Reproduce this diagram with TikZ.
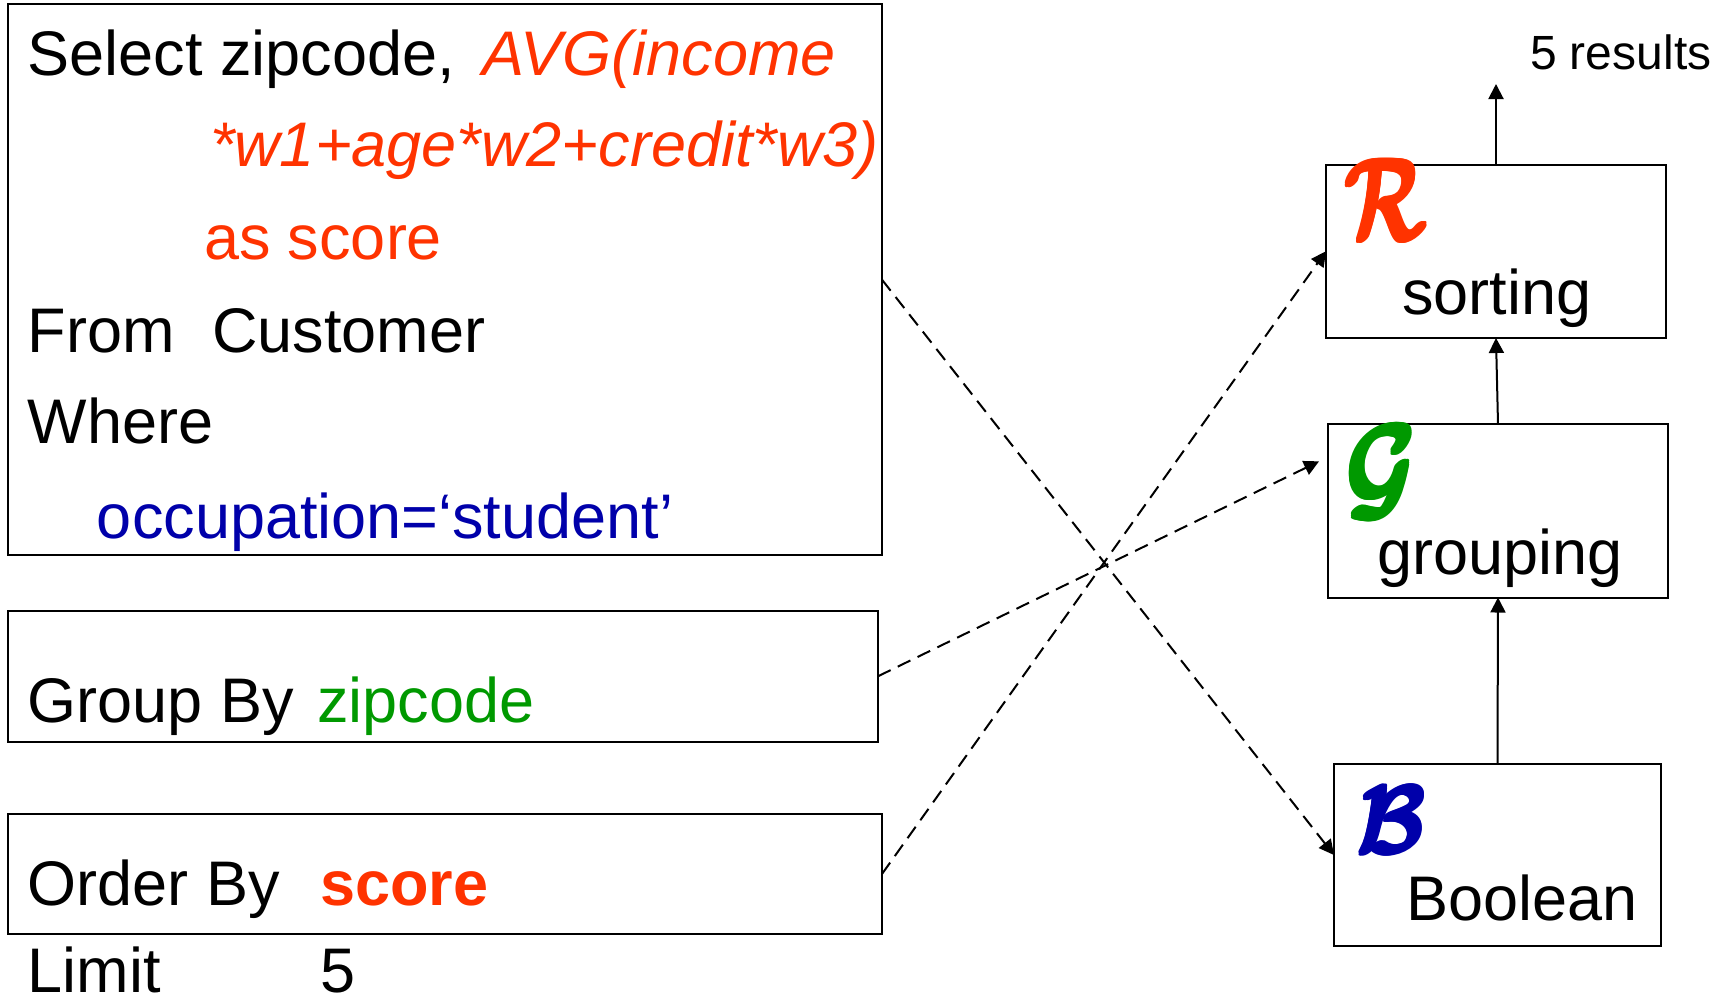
\documentclass[tikz,border=0pt]{standalone}
\usepackage{fontspec}
\setmainfont{Liberation Sans}
\usepackage{bm}
\usetikzlibrary{arrows.meta,calc}

\definecolor{sqlred}{HTML}{FF3300}
\definecolor{sqlgreen}{HTML}{009900}
\definecolor{sqlblue}{HTML}{0000AA}

\begin{document}
\begin{tikzpicture}[x=0.5pt,y=-0.5pt,
  box/.style={draw, line width=1pt, inner sep=0pt, outer sep=0pt, anchor=north west},
  txt/.style={anchor=base west, inner sep=0pt, outer sep=0pt,
              font=\fontsize{31.5}{36}\selectfont},
  small/.style={txt, font=\fontsize{24}{28}\selectfont},
  sym/.style={anchor=center, inner sep=0pt, outer sep=0pt,
              font=\fontsize{24.88}{30}\selectfont},
  flow/.style={-{Triangle[length=7.5pt,width=7.5pt]}, line width=1pt},
  link/.style={flow, dash pattern=on 7pt off 4pt}]

  % canvas
  \useasboundingbox (0,0) rectangle (1731,1002);

  % SQL query boxes
  \node[box, minimum width=437.15pt, minimum height=275.3pt] (main)  at (7.7,4.4) {};
  \node[box, minimum width=435.15pt, minimum height=65.75pt] (group) at (7.7,610.5) {};
  \node[box, minimum width=437.15pt, minimum height=60pt]    (order) at (7.7,814) {};

  % query text
  \node[txt] (sel)   at (27.6,75)  {Select zipcode,};
  \node[txt, text=sqlred] (avg) at (482,75) {\itshape AVG(income};
  \node[txt, text=sqlred] (wts) at (210,166) {\itshape *w1+age*w2+credit*w3)};
  \node[txt, text=sqlred] (as)  at (204,259) {as score};
  \node[txt] (from)  at (27.6,352) {From};
  \node[txt] (cust)  at (212,352)  {Customer};
  \node[txt] (where) at (27.6,443) {Where};
  \node[txt, text=sqlblue] (occ) at (97,538) {occupation=‘student’};
  \node[txt] (grpby) at (27.6,722) {Group By};
  \node[txt, text=sqlgreen] (zip) at (317,722) {zipcode};
  \node[txt] (ordby) at (27.6,905) {Order By};
  \node[txt, text=sqlred] (scr) at (320,905) {\bfseries score};
  \node[txt] (lim)   at (27.6,992) {Limit};
  \node[txt] (five)  at (320,992)  {5};

  % operator boxes
  \node[box, minimum width=170pt,   minimum height=86.75pt] (sorting)  at (1326,164.5) {};
  \node[box, minimum width=170pt,   minimum height=86.75pt] (grouping) at (1328,424) {};
  \node[box, minimum width=163.5pt, minimum height=91pt]    (boolean)  at (1334,764) {};

  % heavy calligraphic operator letters (stacked copies thicken the strokes)
  \foreach \dx [count=\i] in {-1.6,0,1.6} {
    \foreach \dy [count=\j] in {-1.6,0,1.6} {
      \node[sym, text=sqlred]   (rsym-\i-\j) at (1386+\dx,200+\dy)
        {\scalebox{1.65}[2.35]{$\bm{\mathcal{R}}$}};
      \node[sym, text=sqlgreen] (gsym-\i-\j) at (1381+\dx,472+\dy)
        {\scalebox{1.93}[2.35]{$\bm{\mathcal{G}}$}};
      \node[sym, text=sqlblue]  (bsym-\i-\j) at (1391+\dx,820+\dy)
        {\scalebox{1.79}[1.93]{$\bm{\mathcal{B}}$}};
    }
  }

  \node[txt] (sortlbl)  at (1402,314) {sorting};
  \node[txt] (grouplbl) at (1377,574) {grouping};
  \node[txt] (boollbl)  at (1406,920) {Boolean};

  % result output
  \coordinate (out) at (1496,84);
  \node[small] (res) at (1530,69) {5 results};

  % pipeline arrows
  \draw[flow] (sorting.north) -- (out);
  \draw[flow] (grouping.north) -- (sorting.south);
  \draw[flow] (boolean.north) -- (grouping.south);

  % clause-to-operator links
  \draw[link] (main.east) -- (boolean.west);
  \draw[link, shorten >=5pt] (group.east) --
    ($(grouping.north west)!0.19!(grouping.south west)$);
  \draw[link] (order.east) -- (sorting.west);
\end{tikzpicture}
\end{document}
